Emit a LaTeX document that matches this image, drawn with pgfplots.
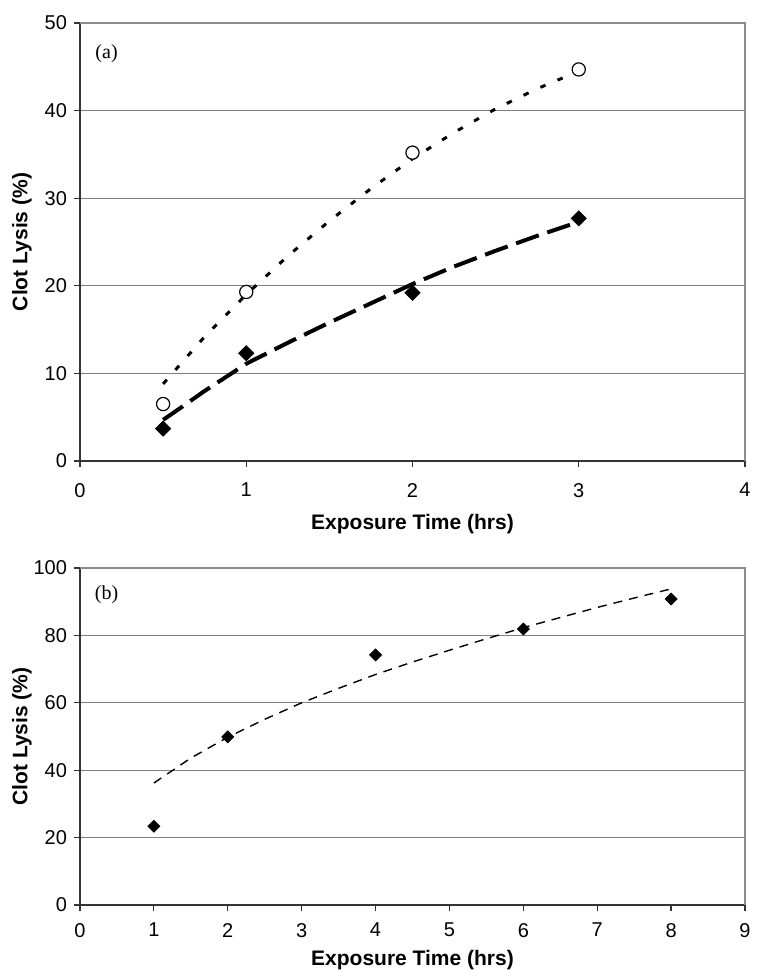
\documentclass[border=0pt]{standalone}
\usepackage{pgfplots}
\pgfplotsset{compat=1.18}
\usepackage{fontspec}
\setmainfont{Liberation Sans}
\newfontfamily\seriffont{Liberation Serif}
\begin{document}
\begin{tikzpicture}
\useasboundingbox (-40pt,-259pt) rectangle (340.5pt,230.5pt);
\pgfplotsset{
  panel/.style={
    scale only axis, width=332.5pt,
    axis x line*=bottom, axis y line*=left,
    axis line style={-, black!80, line width=0.6pt},
    tick align=outside, tick style={black!80, line width=0.6pt}, major tick length=3pt,
    xtick pos=bottom, ytick pos=left,
    ymajorgrids, grid style={black!50, line width=0.6pt},
    tick label style={font=\fontsize{10}{11}\selectfont},
    label style={font=\bfseries\fontsize{10.5}{12}\selectfont},
    /pgf/number format/assume math mode=true,
    clip=false,
  }
}
\begin{axis}[panel, at={(0,0)}, anchor=south west, height=219pt,
  xmin=0,xmax=4,ymin=0,ymax=50, xtick={0,1,2,3,4}, ytick={0,10,20,30,40,50},
  xticklabel style={yshift=-4.5pt},
  xlabel={Exposure Time (hrs)}, ylabel={Clot Lysis (\%)},
  xlabel style={at={(axis description cs:0.5,-0.144)}, anchor=center},
  ylabel style={at={(axis description cs:-0.0872,0.5)}, anchor=center},
]
\draw[black!45, line width=0.6pt] (rel axis cs:0,1) -- (rel axis cs:1,1) -- (rel axis cs:1,0);
\node[font=\seriffont\fontsize{10}{12}\selectfont] at (axis description cs:0.04,0.931) {(a)};
\addplot[black, line width=1.5pt, dash pattern=on 2.8pt off 6.5pt, no marks] coordinates {
 (0.5,8.8)(0.75,14.2)(1,19.0)(1.25,23.4)(1.5,27.4)(1.75,31.1)(2,34.5)(2.25,37.5)(2.5,40.2)(2.75,42.5)(3,44.5)};
\addplot[black, line width=2pt, dash pattern=on 12pt off 4.5pt, no marks] coordinates {
 (0.5,4.7)(0.6,6.0)(0.75,8.0)(1,11.1)(1.25,13.5)(1.5,15.8)(1.75,18.0)(2,20.2)(2.25,22.2)(2.5,24.0)(2.75,25.7)(3,27.3)};
\addplot[only marks, mark=*, mark size=3.3pt, mark options={fill=white, draw=black, line width=0.6pt}] coordinates {
 (0.5,6.5)(1,19.3)(2,35.2)(3,44.7)};
\addplot[only marks, mark=square*, mark size=2.65pt, mark options={fill=black, draw=black, rotate=45}] coordinates {
 (0.5,3.7)(1,12.3)(2,19.2)(3,27.7)};
\end{axis}
\begin{axis}[panel, at={(0,-222pt)}, anchor=south west, height=168.5pt,
  xmin=0,xmax=9,ymin=0,ymax=100, xtick={0,1,...,9}, ytick={0,20,40,60,80,100},
  xticklabel style={yshift=-2.5pt},
  xlabel={Exposure Time (hrs)}, ylabel={Clot Lysis (\%)},
  xlabel style={at={(axis description cs:0.5,-0.163)}, anchor=center},
  ylabel style={at={(axis description cs:-0.0872,0.5)}, anchor=center},
]
\draw[black!45, line width=0.6pt] (rel axis cs:0,1) -- (rel axis cs:1,1) -- (rel axis cs:1,0);
\node[font=\seriffont\fontsize{10}{12}\selectfont] at (axis description cs:0.04,0.92) {(b)};
\addplot[black, line width=0.7pt, dash pattern=on 4.5pt off 3.5pt, no marks] coordinates {
 (1,36.2)(1.5,43.6)(2,49.8)(2.5,55.1)(3,60.0)(3.5,64.3)(4,68.4)(4.5,72.1)(5,75.6)(5.5,79.0)(6,82.3)(6.5,85.3)(7,88.3)(7.5,91.1)(8,93.8)};
\addplot[only marks, mark=square*, mark size=2.1pt, mark options={fill=black, draw=black, rotate=45}] coordinates {
 (1,23.4)(2,49.9)(4,74.2)(6,81.9)(8,90.8)};
\end{axis}
\end{tikzpicture}
\end{document}
